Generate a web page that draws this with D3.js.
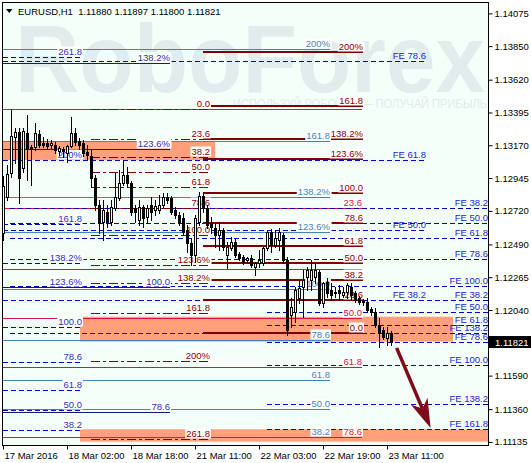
<!DOCTYPE html>
<html>
<head>
<meta charset="utf-8">
<script src="https://cdn.jsdelivr.net/npm/d3@7"></script>
<style>
body { margin: 0; background: #fff; }
text { font-family: "Liberation Sans", Arial, sans-serif; }
</style>
</head>
<body>
<svg id="chart" width="531" height="463"></svg>
<script>
// EURUSD H1, one bar per hour from 17 Mar 10:00
var opens = [1.12569,1.12816,1.12980,1.13227,1.13262,1.13015,1.13255,1.13159,1.13159,1.13248,
  1.13186,1.13186,1.13172,1.13172,1.13131,1.13145,1.13117,1.13165,1.13255,1.13200,
  1.13186,1.13124,1.13097,1.12946,1.12761,1.12644,1.12713,1.12644,1.12740,1.12809,
  1.12912,1.12967,1.12912,1.12740,1.12658,1.12747,1.12678,1.12761,1.12726,1.12726,
  1.12761,1.12816,1.12809,1.12726,1.12692,1.12672,1.12589,1.12500,1.12418,1.12644,
  1.12822,1.12740,1.12637,1.12603,1.12555,1.12589,1.12418,1.12466,1.12507,1.12425,
  1.12404,1.12383,1.12397,1.12335,1.12363,1.12363,1.12466,1.12576,1.12486,1.12521,
  1.12555,1.12383,1.12006,1.12027,1.12123,1.12198,1.12267,1.12246,1.12267,1.12301,
  1.12088,1.12233,1.12178,1.12157,1.12178,1.12143,1.12164,1.12198,1.12157,1.12123,
  1.12102,1.12095,1.12047,1.12027,1.11938,1.11903,1.11848,1.11880];
var highs = [1.12960,1.13035,1.13419,1.13289,1.13289,1.13289,1.13378,1.13172,1.13323,1.13275,
  1.13227,1.13214,1.13207,1.13193,1.13165,1.13159,1.13172,1.13364,1.13289,1.13220,
  1.13207,1.13172,1.13138,1.12967,1.12795,1.12795,1.12761,1.12795,1.12980,1.13001,
  1.13069,1.13021,1.12925,1.12761,1.12795,1.12761,1.12761,1.12816,1.12795,1.12829,
  1.12843,1.12843,1.12822,1.12747,1.12713,1.12706,1.12624,1.12534,1.12692,1.12850,
  1.12850,1.12761,1.12678,1.12637,1.12644,1.12603,1.12507,1.12541,1.12534,1.12438,
  1.12418,1.12404,1.12418,1.12370,1.12452,1.12473,1.12589,1.12596,1.12589,1.12603,
  1.12569,1.12404,1.12123,1.12198,1.12246,1.12315,1.12335,1.12383,1.12363,1.12315,
  1.12233,1.12260,1.12226,1.12198,1.12212,1.12198,1.12226,1.12226,1.12171,1.12136,
  1.12116,1.12123,1.12061,1.12054,1.11986,1.11924,1.11924,1.11897];
var lows = [1.12521,1.12795,1.12953,1.13049,1.12774,1.12987,1.12932,1.12898,1.13138,1.13159,
  1.13159,1.13152,1.13152,1.13117,1.13104,1.13090,1.13056,1.13159,1.13172,1.13145,
  1.13097,1.13076,1.12884,1.12726,1.12569,1.12521,1.12610,1.12624,1.12726,1.12795,
  1.12898,1.12884,1.12692,1.12644,1.12624,1.12610,1.12637,1.12658,1.12692,1.12706,
  1.12747,1.12774,1.12699,1.12672,1.12624,1.12555,1.12438,1.12349,1.12370,1.12624,
  1.12713,1.12603,1.12569,1.12473,1.12452,1.12452,1.12329,1.12452,1.12404,1.12383,
  1.12356,1.12370,1.12335,1.12281,1.12335,1.12349,1.12452,1.12438,1.12473,1.12452,
  1.12363,1.11869,1.11924,1.11958,1.12088,1.11992,1.12178,1.12178,1.12226,1.12075,
  1.12061,1.12130,1.12109,1.12130,1.12109,1.12130,1.12123,1.12109,1.12095,1.12082,
  1.12075,1.12027,1.12006,1.11924,1.11787,1.11842,1.11800,1.11800];
var closes = [1.12891,1.12973,1.13234,1.13262,1.12946,1.13268,1.13152,1.13145,1.13255,1.13172,
  1.13172,1.13165,1.13186,1.13138,1.13152,1.13131,1.13165,1.13255,1.13193,1.13172,
  1.13117,1.13104,1.12946,1.12761,1.12637,1.12726,1.12644,1.12747,1.12816,1.12912,
  1.12967,1.12912,1.12713,1.12713,1.12747,1.12672,1.12740,1.12713,1.12754,1.12761,
  1.12816,1.12795,1.12713,1.12692,1.12644,1.12576,1.12500,1.12418,1.12672,1.12822,
  1.12740,1.12624,1.12610,1.12555,1.12589,1.12473,1.12473,1.12507,1.12418,1.12397,
  1.12370,1.12397,1.12349,1.12363,1.12383,1.12466,1.12576,1.12486,1.12534,1.12576,
  1.12383,1.11903,1.12061,1.12178,1.12191,1.12246,1.12315,1.12315,1.12315,1.12088,
  1.12226,1.12157,1.12143,1.12164,1.12157,1.12164,1.12212,1.12143,1.12109,1.12095,
  1.12095,1.12040,1.12027,1.11938,1.11883,1.11855,1.11883,1.11821];

var timeTicks = [0, 16, 32, 48, 64, 80, 96];
var timeLabels = ["17 Mar 2016", "18 Mar 02:00", "18 Mar 18:00", "21 Mar 11:00", "22 Mar 03:00", "22 Mar 19:00", "23 Mar 11:00"];
var priceTicks = [1.14075, 1.13850, 1.13620, 1.13395, 1.13170, 1.12945, 1.12720, 1.12490, 1.12265, 1.12040, 1.11590, 1.11360, 1.11135];
var lastPrice = 1.11821;

// fibo tools: price at 0% and at 100%, levels, labels
var steelAnchor = [1.10541, 1.12186];
var steelLevels = [38.2, 50, 61.8, 78.6, 100, 123.6, 138.2, 161.8, 200];
var steelText = ["38.2", "50.0", "61.8", "78.6", "100.0", "123.6%", "138.2%", "161.8", "200%"];

var crimsonAnchor = [1.13416, 1.10555];
var crimsonLevels = [0, 23.6, 38.2, 50, 61.8, 78.6];
var crimsonText = ["", "23.6", "", "50.0", "61.8", "78.6"];

var navyAnchor = [1.08187, 1.12200];
var navyLevels = [78.6, 100, 123.6, 138.2];
var navyText = ["78.6", "100.0", "123.6%", "138.2%"];

var blueAnchor = [1.10782, 1.11925];
var blueLevels = [38.2, 50, 61.8, 78.6, 100, 123.6, 138.2, 161.8, 200, 261.8];
var blueText = ["38.2", "50.0", "61.8", "78.6", "100.0", "123.6%", "138.2%", "161.8", "200%", "261.8"];

var dashDotAnchor = [1.13419, 1.12555];
var dashDotLevels = [0, 23.6, 38.2, 50, 61.8, 78.6, 100, 123.6, 138.2, 161.8, 200, 261.8];
var dashDotText = ["0.0", "23.6", "38.2", "50.0", "61.8", "78.6", "100.0", "123.6%", "138.2%", "161.8", "200%", "261.8"];

var maroonAnchor = [1.11881, 1.12845];
var maroonLevels = [0, 23.6, 38.2, 50, 61.8, 78.6, 100, 123.6, 138.2, 161.8, 200];
var maroonText = ["0.0", "23.6", "38.2", "50.0", "61.8", "78.6", "100.0", "123.6%", "138.2%", "161.8", "200%"];

// fibo expansions
var feLeftAnchor = [1.10559, 1.14620];
var feLeftLevels = [38.2, 50, 61.8, 78.6];
var feAAnchor = [1.13066, 1.12208];
var feALevels = [38.2, 50, 61.8, 78.6, 100, 138.2];
var feBAnchor = [1.12383, 1.11666];
var feBLevels = [38.2, 50, 61.8, 78.6, 100, 138.2, 161.8];

// shaded zones (bar span, price span)
var zoneBars = [[0, 53], [19.25, 112.5], [19.25, 121.5]];
var zonePrices = [[1.13195, 1.13069], [1.11994, 1.11823], [1.11222, 1.11137]];

// forecast arrow
var arrowBars = [98.4, 106.9];
var arrowPrices = [1.11780, 1.11231];

var svg = d3.select("#chart");

var x = d3.scaleLinear().domain([0, 121.5]).range([3, 489]);
var y = d3.scaleLinear().domain([1.11114, 1.14146]).range([445, 3]);

svg.append("defs").append("clipPath").attr("id", "clip")
  .append("rect").attr("x", 3).attr("y", 3).attr("width", 486).attr("height", 442);

svg.append("rect").attr("x", 2.5).attr("y", 2.5).attr("width", 486).attr("height", 443)
  .attr("fill", "#f5fffa");

// watermark
svg.append("text").attr("x", 15).attr("y", 92)
  .attr("font-size", 96).attr("font-weight", "bold")
  .attr("textLength", 470).attr("lengthAdjust", "spacingAndGlyphs")
  .attr("fill", "#e2ecec").text("RoboForex");
svg.append("text").attr("x", 233).attr("y", 108)
  .attr("font-size", 12).attr("textLength", 254).attr("lengthAdjust", "spacingAndGlyphs")
  .attr("fill", "#e2eaea").text("ИСПОЛЬЗУЙ РОБОТОВ — ПОЛУЧАЙ ПРИБЫЛЬ");

var plot = svg.append("g").attr("clip-path", "url(#clip)");

// zones
plot.selectAll(".zone").data(zoneBars).enter().append("rect")
  .attr("class", "zone")
  .attr("x", function(d) { return x(d[0]); })
  .attr("width", function(d) { return x(d[1]) - x(d[0]); })
  .attr("y", function(d, i) { return y(zonePrices[i][0]); })
  .attr("height", function(d, i) { return y(zonePrices[i][1]) - y(zonePrices[i][0]); })
  .attr("fill", "#ffa07a");

var feFmt = function(v) { return "FE " + d3.format(".1f")(v); };

var tools = [
  {anchor: steelAnchor, levels: steelLevels, text: steelText, from: 0, to: 81.75, stroke: "#4682b4", width: 1, dash: null, color: "#4682b4", box: true},
  {anchor: crimsonAnchor, levels: crimsonLevels, text: crimsonText, from: 0, to: 89.75, stroke: "#dc143c", width: 1, dash: null, color: "#dc143c", box: true},
  {anchor: navyAnchor, levels: navyLevels, text: navyText, from: 0, to: 41.75, stroke: "#191970", width: 1, dash: null, color: "#2f2fa6", box: true},
  {anchor: blueAnchor, levels: blueLevels, text: blueText, from: 0, to: 19.75, stroke: "#0000cd", width: 1, dash: "5,3", color: "#2e2ec8", box: true},
  {anchor: feLeftAnchor, levels: feLeftLevels, text: feLeftLevels.map(feFmt), from: 0, to: 105.75, stroke: "#0000cd", width: 1, dash: "5,3", color: "#2323dd", box: false},
  {anchor: feAAnchor, levels: feALevels, text: feALevels.map(feFmt), from: 1.75, to: 121.25, stroke: "#0000cd", width: 1, dash: "5,3", color: "#2323dd", box: false},
  {anchor: feBAnchor, levels: feBLevels, text: feBLevels.map(feFmt), from: 66, to: 121.25, stroke: "#0000cd", width: 1, dash: "5,3", color: "#2323dd", box: false},
  {anchor: dashDotAnchor, levels: dashDotLevels, text: dashDotText, from: 22, to: 51.75, stroke: "#800000", width: 1, dash: "9,3,3,3", color: "#8b0000", box: true},
  {anchor: maroonAnchor, levels: maroonLevels, text: maroonText, from: 50, to: 90, stroke: "#800000", width: 2, dash: null, color: "#8b0000", box: true}
];

function levelPrice(t, lv) {
  return t.anchor[0] + (t.anchor[1] - t.anchor[0]) * lv / 100;
}

// level lines
tools.forEach(function(t) {
  plot.append("g").selectAll("line").data(t.levels).enter().append("line")
    .attr("x1", x(t.from)).attr("x2", x(t.to))
    .attr("y1", function(d) { return Math.round(y(levelPrice(t, d))) + (t.width == 1 ? 0.5 : 0); })
    .attr("y2", function(d) { return Math.round(y(levelPrice(t, d))) + (t.width == 1 ? 0.5 : 0); })
    .attr("stroke", t.stroke).attr("stroke-width", t.width)
    .attr("stroke-dasharray", t.dash)
    .attr("shape-rendering", "crispEdges");
});

// level labels
tools.forEach(function(t) {
  t.levels.forEach(function(d, i) {
    if (!t.text[i]) return;
    var g = plot.append("g");
    var bg = g.append("rect").attr("fill", "#fff");
    var tx = g.append("text")
      .attr("x", x(t.to)).attr("y", Math.round(y(levelPrice(t, d))) - 2.5)
      .attr("text-anchor", "end").attr("font-size", 9.5)
      .attr("fill", t.color).text(t.text[i]);
    if (t.box) {
      var b = tx.node().getBBox();
      bg.attr("x", b.x - 1).attr("y", b.y + 1).attr("width", b.width + 2).attr("height", b.height - 1);
    } else {
      bg.remove();
    }
  });
});

// candles
var bars = d3.range(opens.length).map(function(i) {
  return {i: i, o: opens[i], h: highs[i], l: lows[i], c: closes[i]};
});
var cg = plot.append("g").attr("shape-rendering", "crispEdges");
cg.selectAll(".wick").data(bars).enter().append("line")
  .attr("x1", function(d) { return Math.round(x(d.i)) + 0.5; })
  .attr("x2", function(d) { return Math.round(x(d.i)) + 0.5; })
  .attr("y1", function(d) { return Math.round(y(d.h)); })
  .attr("y2", function(d) { return Math.round(y(d.l)) + 1; })
  .attr("stroke", "#000");
bars.forEach(function(d) {
  var X = Math.round(x(d.i));
  var top = Math.round(y(Math.max(d.o, d.c)));
  var bot = Math.round(y(Math.min(d.o, d.c)));
  if (bot - top < 1) {
    cg.append("line").attr("x1", X - 1).attr("x2", X + 2)
      .attr("y1", top + 0.5).attr("y2", top + 0.5).attr("stroke", "#000");
  } else if (d.c > d.o) {
    cg.append("rect").attr("x", X - 0.5).attr("y", top + 0.5)
      .attr("width", 2).attr("height", bot - top)
      .attr("fill", "#fff").attr("stroke", "#000");
  } else {
    cg.append("rect").attr("x", X - 1).attr("y", top)
      .attr("width", 3).attr("height", bot - top + 1)
      .attr("fill", "#000");
  }
});

// arrow
var ax0 = x(arrowBars[0]), ay0 = y(arrowPrices[0]);
var ax1 = x(arrowBars[1]), ay1 = y(arrowPrices[1]);
var len = Math.hypot(ax1 - ax0, ay1 - ay0);
var ux = (ax1 - ax0) / len, uy = (ay1 - ay0) / len;
var backX = ax1 - ux * 29, backY = ay1 - uy * 29;
var notchX = ax1 - ux * 21, notchY = ay1 - uy * 21;
plot.append("line").attr("x1", ax0).attr("y1", ay0).attr("x2", notchX).attr("y2", notchY)
  .attr("stroke", "#7f0a1a").attr("stroke-width", 3.5);
plot.append("path")
  .attr("d", "M" + ax1 + "," + ay1 +
    "L" + (backX - uy * 9) + "," + (backY + ux * 9) +
    "L" + notchX + "," + notchY +
    "L" + (backX + uy * 9) + "," + (backY - ux * 9) + "Z")
  .attr("fill", "#7f0a1a");

// frame
svg.append("rect").attr("x", 2.5).attr("y", 2.5).attr("width", 486).attr("height", 443)
  .attr("fill", "none").attr("stroke", "#000").attr("shape-rendering", "crispEdges");

// price axis
var yAxis = d3.axisRight(y).tickValues(priceTicks).tickFormat(d3.format(".5f"))
  .tickSize(4).tickPadding(2);
var yg = svg.append("g").attr("transform", "translate(488.5,0)").call(yAxis);
yg.select(".domain").remove();
yg.selectAll("text").attr("font-size", 9.5).attr("font-family", "Liberation Sans, Arial, sans-serif").attr("fill", "#000");
yg.selectAll("line").attr("stroke", "#000");

svg.append("rect").attr("x", 489).attr("y", Math.round(y(lastPrice)) - 6)
  .attr("width", 42).attr("height", 12).attr("fill", "#000");
svg.append("text").attr("x", 495).attr("y", Math.round(y(lastPrice)) + 3.5)
  .attr("font-size", 9.5).attr("fill", "#fff").text(d3.format(".5f")(lastPrice));

// time axis
var xAxis = d3.axisBottom(x).tickValues(timeTicks)
  .tickFormat(function(d, i) { return timeLabels[i]; }).tickSize(4);
var xg = svg.append("g").attr("transform", "translate(0,445.5)").call(xAxis);
xg.select(".domain").remove();
xg.selectAll("text").attr("text-anchor", "start").attr("x", 1).attr("y", 13).attr("dy", 0)
  .attr("font-size", 9.5).attr("font-family", "Liberation Sans, Arial, sans-serif").attr("fill", "#000");
xg.selectAll("line").attr("stroke", "#000");

// title
svg.append("path").attr("d", "M6,9L12.5,9L9.25,13Z").attr("fill", "#000");
svg.append("text").attr("x", 18).attr("y", 14.5).attr("font-size", 9.5)
  .style("white-space", "pre").attr("fill", "#000")
  .text("EURUSD,H1  1.11880 1.11897 1.11800 1.11821");
</script>
</body>
</html>
